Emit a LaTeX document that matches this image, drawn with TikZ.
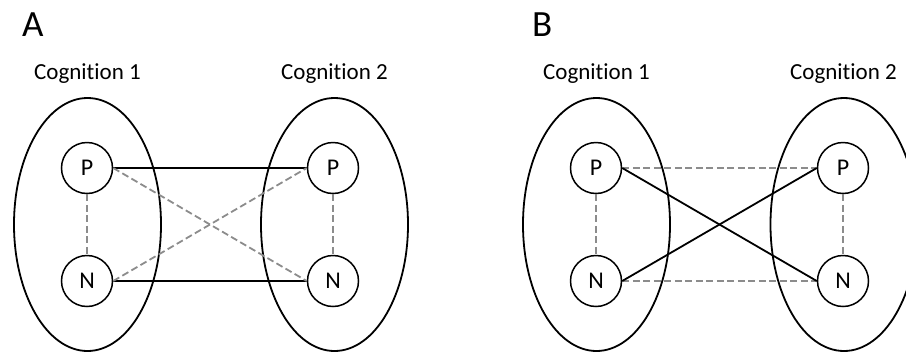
\documentclass[tikz,border=0pt]{standalone}
\usepackage{fontspec}
\setmainfont{Carlito}[RawFeature=-liga]
\usetikzlibrary{shapes.geometric}
\definecolor{linkgray}{RGB}{140,140,140}
\newcommand{\elemfont}{\fontsize{24}{24}\selectfont}
\tikzset{
  cog/.style={ellipse, draw=black, line width=1.8pt, minimum width=147pt, minimum height=253pt, inner sep=0pt},
  elem/.style={circle, draw=black, fill=white, line width=1.5pt, minimum size=51pt, inner sep=0pt},
  poslink/.style={draw=black, line width=1.8pt},
  neglink/.style={draw=linkgray, line width=1.8pt, dash pattern=on 7pt off 3.5pt},
  cogname/.style={anchor=base, font=\fontsize{23}{23}\selectfont},
  panel/.style={anchor=base west, inner sep=0pt, font=\fontsize{37}{37}\selectfont}
}
\begin{document}
\begin{tikzpicture}[x=1pt,y=-1pt]
\useasboundingbox (0,0) rectangle (906,354);

% ---------- Panel A ----------
\node[panel] (labA) at (22,36) {A};
\node[cogname] (tA1) at (87.5,79) {Cognition 1};
\node[cogname] (tA2) at (334.5,79) {Cognition 2};
\node[cog] (eA1) at (87.5,224.5) {};
\node[cog] (eA2) at (334.5,224.5) {};
\node[elem] (pA1) at (87,168) {\elemfont P};
\node[elem] (nA1) at (87,281) {\elemfont N};
\node[elem] (pA2) at (333,168) {\elemfont P};
\node[elem] (nA2) at (333,281) {\elemfont N};
\draw[poslink] (pA1.east) -- (pA2.west);
\draw[poslink] (nA1.east) -- (nA2.west);
\draw[neglink] (pA1.east) -- (nA2.west);
\draw[neglink] (nA1.east) -- (pA2.west);
\draw[neglink] (pA1.south) -- (nA1.north);
\draw[neglink] (pA2.south) -- (nA2.north);

% ---------- Panel B ----------
\node[panel] (labB) at (532,36) {B};
\node[cogname] (tB1) at (596.5,79) {Cognition 1};
\node[cogname] (tB2) at (843.5,79) {Cognition 2};
\node[cog] (eB1) at (596.5,224.5) {};
\node[cog] (eB2) at (844,224.5) {};
\node[elem] (pB1) at (596,168) {\elemfont P};
\node[elem] (nB1) at (596,281) {\elemfont N};
\node[elem] (pB2) at (843,168) {\elemfont P};
\node[elem] (nB2) at (843,281) {\elemfont N};
\draw[neglink] (pB1.east) -- (pB2.west);
\draw[neglink] (nB1.east) -- (nB2.west);
\draw[poslink] (pB1.east) -- (nB2.west);
\draw[poslink] (nB1.east) -- (pB2.west);
\draw[neglink] (pB1.south) -- (nB1.north);
\draw[neglink] (pB2.south) -- (nB2.north);
\end{tikzpicture}
\end{document}
